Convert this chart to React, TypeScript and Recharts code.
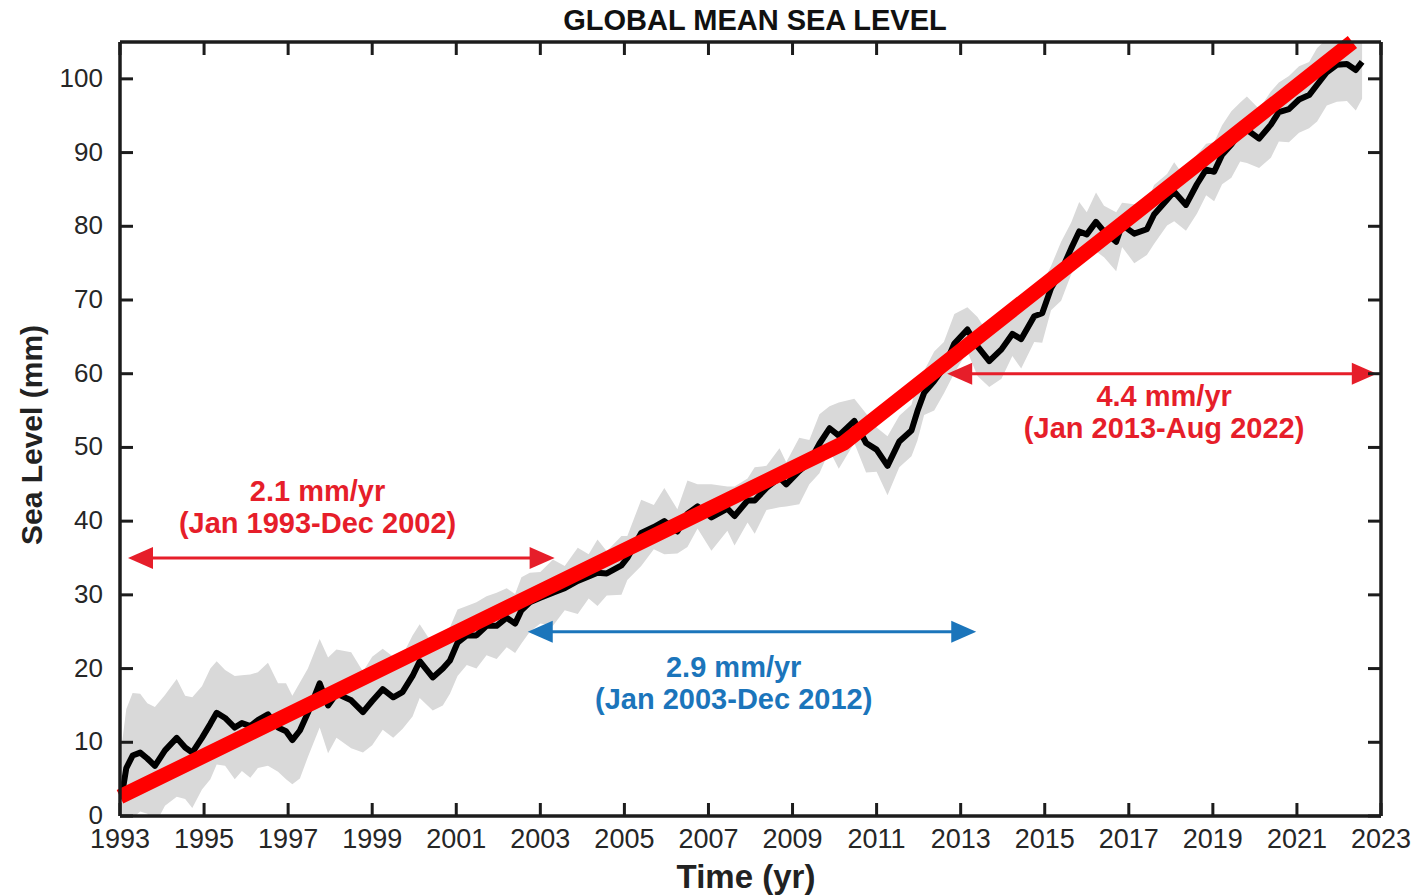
import { ComposedChart, Line, Area, XAxis, YAxis, ReferenceLine } from "recharts";

// GMSL (mm)
const years = [
  1993.05, 1993.15, 1993.3, 1993.48, 1993.65, 1993.83, 1994.07, 1994.35, 1994.55, 1994.72,
  1994.95, 1995.15, 1995.3, 1995.5, 1995.73, 1995.9, 1996.1, 1996.28, 1996.52, 1996.76,
  1996.95, 1997.1, 1997.28, 1997.47, 1997.75, 1997.95, 1998.15, 1998.5, 1998.78, 1999.0,
  1999.25, 1999.5, 1999.72, 1999.96, 2000.13, 2000.44, 2000.68, 2000.85, 2001.03, 2001.25,
  2001.48, 2001.72, 2001.96, 2002.2, 2002.4, 2002.55, 2002.75, 2003.0, 2003.3, 2003.58,
  2003.89, 2004.15, 2004.36, 2004.58, 2004.93, 2005.07, 2005.4, 2005.7, 2005.95, 2006.26,
  2006.5, 2006.74, 2007.07, 2007.45, 2007.62, 2007.93, 2008.1, 2008.38, 2008.69, 2008.85,
  2009.16, 2009.4, 2009.64, 2009.88, 2010.1, 2010.47, 2010.75, 2011.0, 2011.26, 2011.54,
  2011.83, 2011.97, 2012.13, 2012.37, 2012.6, 2012.85, 2013.16, 2013.4, 2013.68, 2013.97,
  2014.23, 2014.44, 2014.75, 2014.94, 2015.15, 2015.39, 2015.63, 2015.82, 2016.0, 2016.22,
  2016.41, 2016.7, 2016.84, 2017.13, 2017.43, 2017.6, 2017.91, 2018.08, 2018.36, 2018.62,
  2018.84, 2019.03, 2019.22, 2019.44, 2019.65, 2019.81, 2020.1, 2020.38, 2020.57, 2020.81,
  2021.05, 2021.29, 2021.48, 2021.71, 2021.95, 2022.19, 2022.4, 2022.55,
];
const gmsl = [
  3.0, 6.5, 8.2, 8.6, 7.8, 6.8, 8.9, 10.6, 9.3, 8.6,
  10.6, 12.5, 14.0, 13.3, 12.0, 12.6, 12.2, 13.0, 13.8, 12.0,
  11.5, 10.3, 11.6, 14.0, 18.0, 15.0, 16.6, 15.7, 14.1, 15.6,
  17.2, 16.1, 16.8, 19.0, 21.0, 18.8, 20.0, 21.1, 23.5, 24.5,
  24.5, 25.8, 25.8, 26.9, 26.1, 27.9, 29.0, 29.6, 30.3, 30.9,
  31.9, 32.5, 33.0, 32.9, 34.0, 35.0, 38.4, 39.2, 40.0, 38.6,
  41.0, 42.0, 40.5, 41.7, 40.7, 42.8, 42.8, 44.5, 45.9, 45.0,
  46.8, 48.0, 50.5, 52.6, 51.6, 53.6, 50.6, 49.7, 47.5, 50.8,
  52.3, 54.9, 57.4, 59.0, 60.8, 64.1, 66.0, 63.7, 61.7, 63.3,
  65.4, 64.7, 67.8, 68.2, 71.6, 73.9, 77.0, 79.3, 78.9, 80.6,
  79.3, 77.9, 80.2, 79.0, 79.6, 81.6, 83.6, 84.7, 82.9, 85.7,
  87.7, 87.4, 89.7, 91.1, 92.8, 93.1, 91.9, 93.8, 95.5, 95.9,
  97.2, 97.8, 99.2, 100.9, 101.9, 102.0, 101.2, 102.3,
];
// half-width of the grey uncertainty envelope (mm)
const spread = [
  7, 8, 8.5, 8, 7.5, 8, 7.5, 8, 7, 7.5,
  7, 7.5, 7, 6.5, 7, 6.5, 7, 6.5, 7, 6,
  6.5, 6, 6.5, 6, 6, 6.5, 6, 6.5, 5.5, 6,
  5.5, 5.5, 5, 5.5, 5, 4.5, 5, 4.5, 4.5, 4,
  4.5, 4, 4.5, 4, 4, 4.5, 4, 3.5, 4.5, 3,
  4.5, 3, 4.5, 3, 4, 3, 4.5, 3, 4.5, 3,
  4.5, 3, 4.5, 3, 4, 3, 4.5, 3, 4, 3,
  4.5, 3, 4, 3, 4.5, 3, 4, 3, 4, 3.5,
  3.5, 4, 3, 4, 3.5, 4, 3, 4, 3.5, 4,
  3, 4, 3.5, 4, 3, 4, 3.5, 4, 3, 4,
  3.5, 4, 3, 4, 3.5, 4, 3.5, 4, 3.5, 4,
  3.5, 4, 4, 4.5, 4, 4.5, 4, 4.5, 4, 4.5,
  4.5, 4.5, 5, 4.5, 5, 5, 5.5, 5,
];

// piecewise linear trend (red)
const trendYears = [1993.0, 2010.22, 2022.32];
const trendMm = [2.6, 50.6, 105];

// rate annotations
const rateLabels = ["2.1 mm/yr", "2.9 mm/yr", "4.4 mm/yr"];
const periodLabels = ["(Jan 1993-Dec 2002)", "(Jan 2003-Dec 2012)", "(Jan 2013-Aug 2022)"];
const arrowFrom = [1993.19, 2002.7, 2012.68];
const arrowTo = [2003.34, 2013.37, 2022.9];
const arrowLevel = [35, 25, 60];
const labelCenter = [1997.7, 2007.6, 2017.84];

const xTicks = [1993, 1995, 1997, 1999, 2001, 2003, 2005, 2007, 2009, 2011, 2013, 2015, 2017, 2019, 2021, 2023];
const yTicks = [0, 10, 20, 30, 40, 50, 60, 70, 80, 90, 100];

const series = years.map((t, i) => ({ t, gmsl: gmsl[i], band: [gmsl[i] - spread[i], gmsl[i] + spread[i]] }));
const trend = trendYears.map((t, i) => ({ t, mm: trendMm[i] }));

const INK = "#1c1c1c";
const RED = "#e61e2a";
const BLUE = "#1b75bb";
const FONT = "'Liberation Sans', Arial, Helvetica, sans-serif";
const TICK = 13;

// styling per annotation: colour and text baselines relative to the arrow
const arrowStyle = [
  { color: RED, dy: [-57, -25] },
  { color: BLUE, dy: [45, 77] },
  { color: RED, dy: [32, 64] },
];

const BottomTick = (p: any) => (
  <g>
    <line x1={p.x} y1={p.y} x2={p.x} y2={p.y - TICK} stroke={INK} strokeWidth={3} />
    <text x={p.x} y={p.y + 32} textAnchor="middle" fontSize={27} fontFamily={FONT} fill="#262626">
      {p.payload.value}
    </text>
  </g>
);
const TopTick = (p: any) => <line x1={p.x} y1={p.y} x2={p.x} y2={p.y + TICK} stroke={INK} strokeWidth={3} />;
const LeftTick = (p: any) => (
  <g>
    <line x1={p.x} y1={p.y} x2={p.x + TICK} y2={p.y} stroke={INK} strokeWidth={3} />
    <text x={p.x - 17} y={p.y + 8} textAnchor="end" fontSize={26} fontFamily={FONT} fill="#262626">
      {p.payload.value}
    </text>
  </g>
);
const RightTick = (p: any) => <line x1={p.x} y1={p.y} x2={p.x - TICK} y2={p.y} stroke={INK} strokeWidth={3} />;

function arrowShape(i: number) {
  const { color, dy } = arrowStyle[i];
  return (p: any) => {
    const { x1, y1, x2 } = p;
    const head = 25;
    const half = 11;
    const tx = x1 + ((labelCenter[i] - arrowFrom[i]) / (arrowTo[i] - arrowFrom[i])) * (x2 - x1);
    return (
      <g>
        <line x1={x1 + head - 2} y1={y1} x2={x2 - head + 2} y2={y1} stroke={color} strokeWidth={3} />
        <polygon points={`${x1},${y1} ${x1 + head},${y1 - half} ${x1 + head},${y1 + half}`} fill={color} />
        <polygon points={`${x2},${y1} ${x2 - head},${y1 - half} ${x2 - head},${y1 + half}`} fill={color} />
        <text x={tx} y={y1 + dy[0]} textAnchor="middle" fontSize={29} fontWeight="bold" fontFamily={FONT} fill={color}>
          {rateLabels[i]}
        </text>
        <text x={tx} y={y1 + dy[1]} textAnchor="middle" fontSize={29} fontWeight="bold" fontFamily={FONT} fill={color}>
          {periodLabels[i]}
        </text>
      </g>
    );
  };
}

export default function App() {
  return (
    <div style={{ position: "absolute", left: 0, top: 0, width: 1414, height: 896, background: "#fff" }}>
      <div
        style={{
          position: "absolute",
          left: 755,
          top: 4,
          transform: "translateX(-50%)",
          fontFamily: FONT,
          fontWeight: "bold",
          fontSize: 29,
          color: "#111",
          whiteSpace: "nowrap",
        }}
      >
        GLOBAL MEAN SEA LEVEL
      </div>
      <ComposedChart width={1414} height={896} data={series} margin={{ top: 41, right: 32, bottom: 0, left: 0 }}>
        <XAxis
          dataKey="t"
          type="number"
          domain={[1993, 2023]}
          ticks={xTicks}
          interval={0}
          allowDataOverflow
          height={80}
          tickSize={0}
          tickMargin={0}
          tick={<BottomTick />}
          axisLine={{ stroke: INK, strokeWidth: 3.5 }}
          label={{
            content: () => (
              <text x={746} y={888} textAnchor="middle" fontSize={33} fontWeight="bold" fontFamily={FONT} fill="#222">
                Time (yr)
              </text>
            ),
          }}
        />
        <XAxis
          xAxisId="top"
          dataKey="t"
          orientation="top"
          type="number"
          domain={[1993, 2023]}
          ticks={xTicks}
          interval={0}
          height={1}
          tickSize={0}
          tickMargin={0}
          tick={<TopTick />}
          axisLine={{ stroke: INK, strokeWidth: 3.5 }}
        />
        <YAxis
          type="number"
          domain={[0, 105]}
          ticks={yTicks}
          interval={0}
          allowDataOverflow
          width={120}
          tickSize={0}
          tickMargin={0}
          tick={<LeftTick />}
          axisLine={{ stroke: INK, strokeWidth: 3.5 }}
          label={{
            content: () => (
              <text
                x={42}
                y={435}
                transform="rotate(-90 42 435)"
                textAnchor="middle"
                fontSize={30}
                fontWeight="bold"
                fontFamily={FONT}
                fill="#222"
              >
                Sea Level (mm)
              </text>
            ),
          }}
        />
        <YAxis
          yAxisId="right"
          orientation="right"
          type="number"
          domain={[0, 105]}
          ticks={yTicks}
          interval={0}
          width={1}
          tickSize={0}
          tickMargin={0}
          tick={<RightTick />}
          axisLine={{ stroke: INK, strokeWidth: 3.5 }}
        />
        <Area
          type="linear"
          dataKey="band"
          stroke="none"
          fill="#d9d9d9"
          fillOpacity={1}
          isAnimationActive={false}
        />
        <Line
          type="linear"
          dataKey="gmsl"
          stroke="#000"
          strokeWidth={6}
          strokeLinejoin="round"
          dot={false}
          isAnimationActive={false}
        />
        <Line
          data={trend}
          xAxisId="top"
          yAxisId="right"
          type="linear"
          dataKey="mm"
          stroke="#ff0000"
          strokeWidth={15}
          dot={false}
          isAnimationActive={false}
        />
        {rateLabels.map((_, i) => (
          <ReferenceLine
            key={i}
            segment={[
              { x: arrowFrom[i], y: arrowLevel[i] },
              { x: arrowTo[i], y: arrowLevel[i] },
            ]}
            ifOverflow="visible"
            shape={arrowShape(i)}
          />
        ))}
      </ComposedChart>
    </div>
  );
}
